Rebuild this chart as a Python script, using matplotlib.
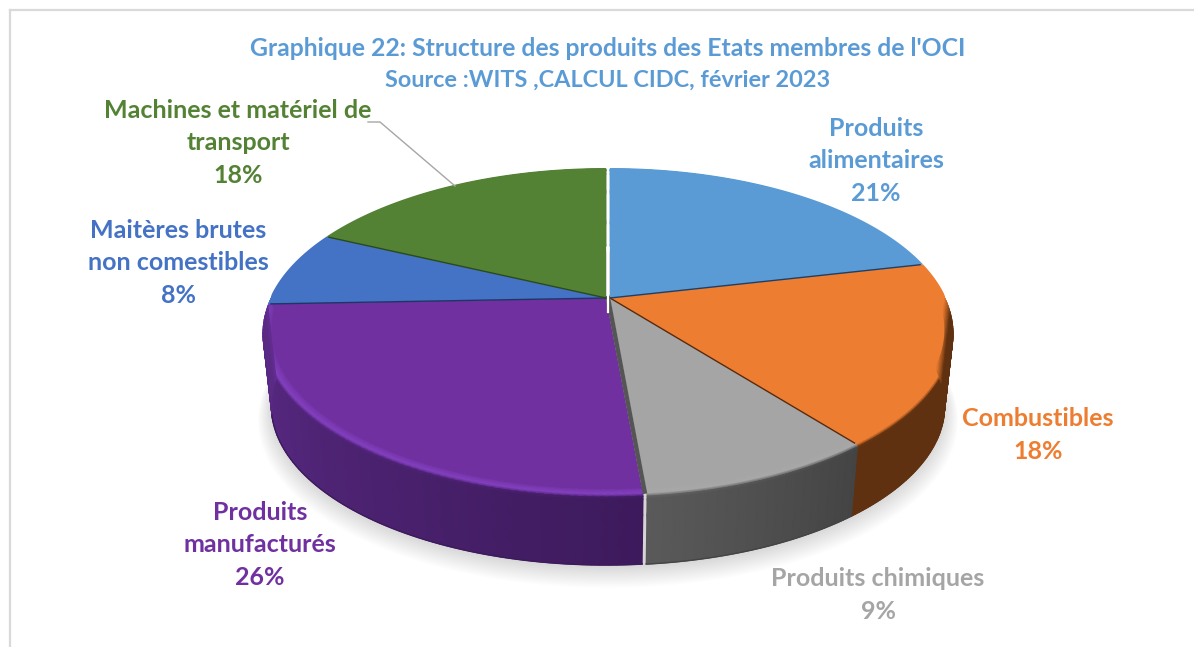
import numpy as np
import matplotlib
matplotlib.use("Agg")
import matplotlib.pyplot as plt
from matplotlib.colors import to_rgb

# share of each product group, clockwise from 12 o'clock
categories = [
    "Produits\nalimentaires",
    "Combustibles",
    "Produits chimiques",
    "Produits\nmanufacturés",
    "Maitères brutes\nnon comestibles",
    "Machines et matériel de\ntransport",
]
shares = [21.4, 18.0, 9.2, 25.8, 7.6, 18.0]
title_lines = [
    "Graphique 22: Structure des produits des Etats membres de l'OCI",
    "Source :WITS ,CALCUL CIDC, février 2023",
]

colors = ["#5B9BD5", "#ED7D31", "#A5A5A5", "#7030A0", "#4472C4", "#548235"]
edge_colors = ["#1F3F66", "#5A2A0C", "#555555", "#1E3566", "#2B4A1A", "#2B4A1A"]
# side colour at the start and the end of each slice
side_start = ["#5B9BD5", "#5F3110", "#444444", "#3D1A5C", "#4472C4", "#548235"]
side_end = ["#5F3110", "#5F3110", "#5A5A5A", "#5C2B88", "#4472C4", "#548235"]
rim_light = ["#5B9BD5", "#ED7D31", "#A8A8A8", "#8340BF", "#4472C4", "#548235"]
shifts = [2, 2, 2, -2, -2, -2]
label_pos = [(876, 161), (1038, 435), (878, 595), (260, 545), (178, 263), (238, 143)]

# perspective of the pie, in pixels
CX, CY = 608, 298
AX, B, K = 336.0, 156.6, 0.205
DEPTH = 75.0
SHRINK = 0.025


def project(theta, r, z, dx=0.0):
    u = r * np.sin(theta)
    v = r * np.cos(theta)
    w = 1 + K * v
    s = 1 - SHRINK * z
    return CX + dx + AX * u / w * s, CY - B * v / w * s + DEPTH * z


plt.rcParams["font.family"] = ["Lato", "DejaVu Sans"]
plt.rcParams["font.weight"] = "bold"

fig = plt.figure(figsize=(11.94, 6.47), dpi=100)
ax = fig.add_axes([0, 0, 1, 1])
ax.set_xlim(0, 1194)
ax.set_ylim(647, 0)
ax.axis("off")

# chart frame
ax.plot([10, 10], [647, 10], color="#D9D9D9", lw=1.6, zorder=1)
ax.plot([10, 1194], [10, 10], color="#D9D9D9", lw=1.6, zorder=1)

# soft shadow under the pie
ring = np.linspace(0, 2 * np.pi, 361)
for i in range(14):
    sx, sy = project(ring, 1.002 + 0.0035 * i, 1.0 + 0.012 * i)
    ax.fill(sx, sy, color="#000000", alpha=0.012, lw=0, zorder=2)

bounds = np.concatenate([[0], np.cumsum(shares)]) / sum(shares) * 2 * np.pi

# rim rows: r and z from the flat top over the bevel and down the side
row_r = np.array([0.97, 0.98, 0.99, 0.995, 1.0, 1.0, 1.0, 1.0, 1.0])
row_z = np.array([0.0, 0.0, 0.0, 0.01, 0.03, 0.07, 0.3, 0.7, 1.0])
row_mix = np.array([0.0, 0.4, 0.8, 1.0, 2.0, 3.0, 3.0, 3.0, 3.0])

for i in range(len(shares)):
    th = np.linspace(bounds[i], bounds[i + 1], 80)
    T, R = np.meshgrid(th, row_r)
    _, Z = np.meshgrid(th, row_z)
    X, Y = project(T, R, Z, shifts[i])
    front = np.clip((0.02 - R * np.cos(T)) / 0.1, 0, 1)
    frac = (T - bounds[i]) / (bounds[i + 1] - bounds[i])
    top = np.array(to_rgb(colors[i]))
    light = np.array(to_rgb(rim_light[i]))
    side0 = np.array(to_rgb(side_start[i]))
    side1 = np.array(to_rgb(side_end[i]))
    C = np.zeros(X.shape + (3,))
    for c in range(3):
        side = side0[c] + (side1[c] - side0[c]) * frac
        m = row_mix[:, None]
        val = np.where(m <= 1, top[c] + (light[c] - top[c]) * m,
                       np.where(m <= 2, light[c] + (side[c] * 1.1 - light[c]) * (m - 1),
                                side[c]))
        C[:, :, c] = np.clip(top[c] + (val - top[c]) * front, 0, 1)
    ax.pcolormesh(X, Y, C, shading="gouraud", zorder=3 + (0.5 if i == 3 else 0))
    # clean edge along the bottom of the front slices
    if i in (1, 2, 3):
        vis = np.cos(th) < -0.25
        bx, by = project(th[vis], 1.0, 1.0, shifts[i])
        ax.plot(bx, by, color=side_start[i], lw=1.0, zorder=3.6)

# flat top of each slice
for i in range(len(shares)):
    th = np.linspace(bounds[i], bounds[i + 1], 120)
    front = np.clip((0.02 - np.cos(th)) / 0.1, 0, 1)
    x, y = project(th, 1.0 - 0.025 * front, 0.0, shifts[i])
    ox, oy = project(0.0, 0.0, 0.0, shifts[i])
    ax.fill(np.r_[ox, x], np.r_[oy, y], color=colors[i], lw=0, zorder=4)

# dark seams between slices, the grey/purple one is wider and closes the gap
for i in range(5):
    dx = 0 if i == 2 else shifts[i]
    ox, oy = project(0.0, 0.0, 0.0, dx)
    ex, ey = project(bounds[i + 1], 0.99, 0.0, dx)
    lw = 3.2 if i == 2 else 1.0
    ax.plot([ox, ex], [oy, ey], color=edge_colors[i], lw=lw, zorder=5)

# white gap down the 12 o'clock seam
ax.plot([CX, CX], [168, 312], color="white", lw=1.6, zorder=5.5)

# leader line
ax.plot([368, 380, 455], [122, 122, 186], color="#A6A6A6", lw=1.0, zorder=6)

for line, y, size in zip(title_lines, [48, 80], [17.8, 16.9]):
    ax.text(608, y, line, color=colors[0], fontsize=size, ha="center", va="center")

for name, share, col, (lx, ly) in zip(categories, shares, colors, label_pos):
    ax.text(lx, ly, f"{name}\n{round(share)}%", color=col, fontsize=18,
            ha="center", va="center", linespacing=1.5, zorder=7)

fig.savefig("out.png", dpi=100, facecolor="white")
